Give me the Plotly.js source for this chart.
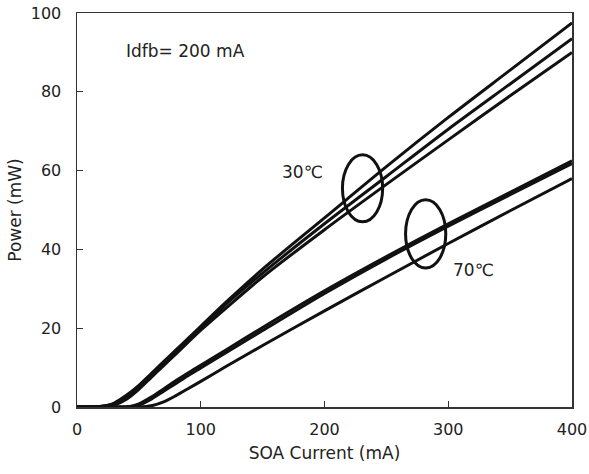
<!DOCTYPE html>
<html>
<head>
<meta charset="utf-8">
<script src="https://cdn.plot.ly/plotly-3.0.1.min.js"></script>
<style>html,body{margin:0;padding:0;background:#fff;}#chart{width:589px;height:474px;}</style>
</head>
<body>
<div id="chart"></div>
<script>
// SOA current (mA)
const current = [0, 10, 20, 30, 40, 50, 60, 70, 80, 90, 100, 120, 150, 200, 250, 300, 350, 400];
// 30 °C curves (mW)
const p30a = [0, 0, 0.2, 1.0, 3.0, 5.5, 8.5, 11.5, 14.5, 17.5, 20.5, 26.5, 35.0, 48.0, 61.0, 73.5, 85.5, 97.5];
const p30b = [0, 0, 0.2, 0.8, 2.5, 5.0, 8.0, 11.0, 14.0, 17.0, 20.0, 26.0, 34.0, 46.5, 58.5, 70.5, 82.0, 93.5];
const p30c = [0, 0, 0.1, 0.5, 2.0, 4.5, 7.5, 10.5, 13.5, 16.5, 19.5, 25.0, 33.0, 45.0, 56.5, 67.8, 79.0, 90.0];
// 70 °C curves (mW)
const p70a = [0, 0, 0, 0, 0, 0.8, 2.5, 4.6, 6.7, 8.7, 10.6, 14.4, 20.2, 29.5, 38.2, 46.5, 54.5, 62.5];
const p70b = [0, 0, 0, 0, 0, 0.5, 2.0, 4.0, 6.0, 8.0, 9.9, 13.7, 19.4, 28.8, 37.6, 45.9, 53.9, 61.8];
const p70c = [0, 0, 0, 0, 0, 0, 0.3, 1.3, 2.9, 4.7, 6.5, 10.2, 15.6, 24.4, 33.0, 41.5, 49.8, 58.0];

const xTicks = [0, 100, 200, 300, 400];
const yTicks = [0, 20, 40, 60, 80, 100];

// annotation texts and ellipse bounds (data units)
const labelIdfb = {x: 88, y: 90.3, text: 'Idfb= 200 mA'};
const label30 = {x: 182, y: 59.6, text: '30℃'};
const label70 = {x: 320, y: 34.8, text: '70℃'};
const ellipse30 = {x0: 214.5, x1: 247, y0: 47, y1: 64};
const ellipse70 = {x0: 265.5, x1: 298, y0: 35.3, y1: 52.6};

const series = [p30a, p30b, p30c, p70a, p70b, p70c];
const traces = series.map(p => ({
  x: current, y: p, type: 'scatter', mode: 'lines',
  line: {color: '#111', width: 3, shape: 'spline', smoothing: 0.8},
  hoverinfo: 'skip', showlegend: false
}));

const font = {family: 'DejaVu Sans, sans-serif', size: 17, color: '#222'};
const tickFont = {family: 'DejaVu Sans, sans-serif', size: 16, color: '#222'};
const axisCommon = {
  showgrid: false, zeroline: false, showline: true, linecolor: '#333', linewidth: 1.5,
  mirror: true, ticks: 'inside', ticklen: 6, tickwidth: 1.2, tickcolor: '#333',
  tickfont: tickFont, fixedrange: true, ticklabeloverflow: 'allow'
};

const layout = {
  width: 589, height: 474,
  margin: {l: 77, r: 17, t: 13, b: 67},
  paper_bgcolor: '#fff', plot_bgcolor: '#fff',
  font: font,
  showlegend: false,
  xaxis: Object.assign({}, axisCommon, {
    range: [0, 400], tickvals: xTicks, ticktext: xTicks.map(String),
    title: {text: 'SOA Current (mA)', font: font, standoff: 9},
    ticklabelstandoff: 7
  }),
  yaxis: Object.assign({}, axisCommon, {
    range: [0, 100], tickvals: yTicks, ticktext: yTicks.map(String),
    title: {text: 'Power (mW)', font: font, standoff: 5},
    ticklabelstandoff: 11
  }),
  annotations: [labelIdfb, label30, label70].map(a => ({
    x: a.x, y: a.y, xref: 'x', yref: 'y', text: a.text, showarrow: false,
    font: font, xanchor: 'center', yanchor: 'middle'
  })),
  shapes: [ellipse30, ellipse70].map(e => ({
    type: 'circle', xref: 'x', yref: 'y', x0: e.x0, x1: e.x1, y0: e.y0, y1: e.y1,
    line: {color: '#111', width: 3}, fillcolor: 'rgba(0,0,0,0)'
  }))
};

Plotly.newPlot('chart', traces, layout, {staticPlot: true, displayModeBar: false});
</script>
</body>
</html>
